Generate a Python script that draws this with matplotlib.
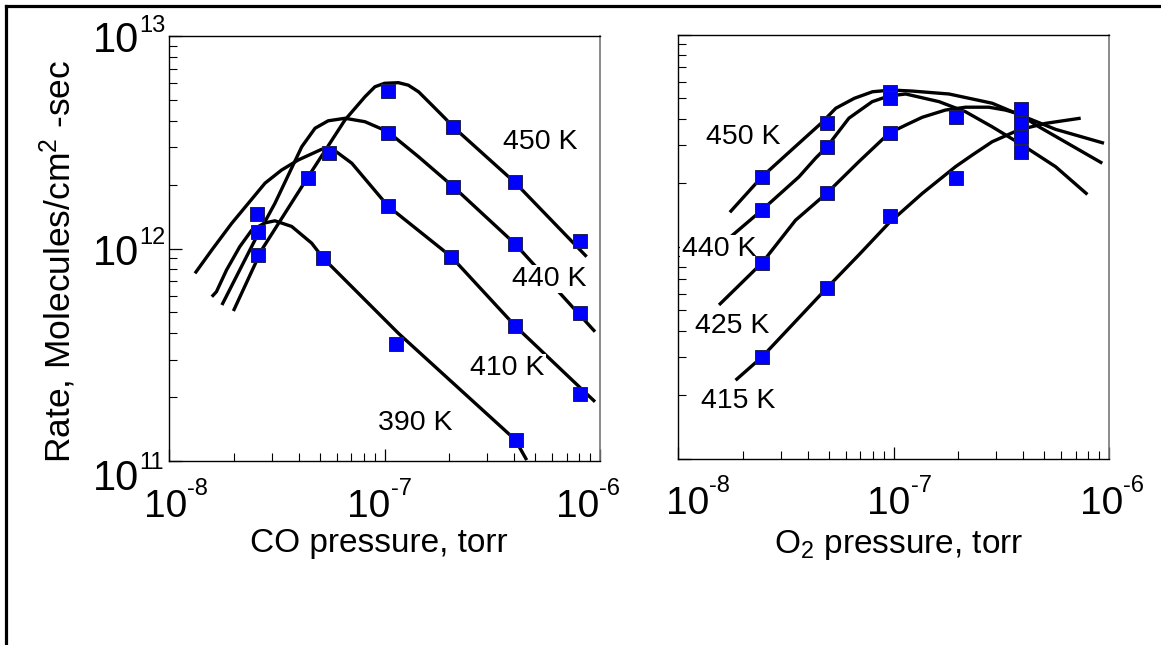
import matplotlib
matplotlib.use('Agg')
import matplotlib.pyplot as plt
from matplotlib.transforms import blended_transform_factory, ScaledTranslation
from matplotlib.ticker import LogLocator, NullFormatter
from matplotlib.lines import Line2D

plt.rcParams['font.family'] = ['Liberation Sans', 'DejaVu Sans']
plt.rcParams['mathtext.fontset'] = 'custom'
plt.rcParams['mathtext.rm'] = 'Liberation Sans'
plt.rcParams['mathtext.it'] = 'Liberation Sans:italic'
plt.rcParams['mathtext.bf'] = 'Liberation Sans:bold'
plt.rcParams['mathtext.default'] = 'regular'

# ---------------- Left panel: rate vs CO pressure ----------------
co_450_x = [2.6e-8, 4.4e-8, 1.04e-7, 2.08e-7, 4.05e-7, 8.1e-7]
co_450_y = [9.3e11, 2.15e12, 5.5e12, 3.75e12, 2.05e12, 1.08e12]
co_440_x = [1.04e-7, 2.08e-7, 4.05e-7, 8.1e-7]
co_440_y = [3.5e12, 1.95e12, 1.05e12, 4.95e11]
co_410_x = [2.57e-8, 5.55e-8, 1.04e-7, 2.04e-7, 4.05e-7, 8.1e-7]
co_410_y = [1.46e12, 2.82e12, 1.58e12, 9.15e11, 4.32e11, 2.06e11]
co_390_x = [2.59e-8, 5.2e-8, 1.13e-7, 4.06e-7]
co_390_y = [1.19e12, 9.0e11, 3.55e11, 1.26e11]

fit_co_450_x = [1.99e-8, 2.69e-8, 4.39e-8, 6.56e-8, 8.12e-8, 9.03e-8, 1.0e-7, 1.16e-7, 1.29e-7,
                1.44e-7, 1.66e-7, 1.91e-7, 2.08e-7, 4.04e-7, 8.67e-7]
fit_co_450_y = [5.08e11, 9.84e11, 2.15e12, 4.03e12, 5.18e12, 5.77e12, 5.99e12, 6.03e12, 5.87e12,
                5.46e12, 4.73e12, 4.10e12, 3.74e12, 2.04e12, 9.15e11]
fit_co_440_x = [1.76e-8, 2.51e-8, 3.1e-8, 4.13e-8, 4.76e-8, 5.48e-8, 6.56e-8, 8.12e-8, 1.035e-7, 1.44e-7, 2.09e-7, 4.04e-7, 9.48e-7]
fit_co_440_y = [5.42e11, 1.10e12, 1.63e12, 3.01e12, 3.68e12, 3.99e12, 4.10e12, 3.95e12, 3.55e12, 2.70e12, 1.95e12, 1.05e12, 4.06e11]
fit_co_410_x = [1.32e-8, 1.58e-8, 1.95e-8, 2.79e-8, 3.33e-8, 3.98e-8, 5.11e-8, 5.69e-8, 7.05e-8, 1.04e-7, 2.04e-7, 4.04e-7, 9.48e-7]
fit_co_410_y = [7.64e11, 9.84e11, 1.31e12, 2.03e12, 2.34e12, 2.61e12, 2.93e12, 2.96e12, 2.52e12, 1.58e12, 9.15e11, 4.32e11, 1.90e11]
fit_co_390_x = [1.58e-8, 1.66e-8, 1.85e-8, 2.13e-8, 2.42e-8, 2.79e-8, 3.1e-8, 3.71e-8, 4.59e-8, 5.2e-8, 1.16e-7, 4.04e-7, 4.57e-7]
fit_co_390_y = [5.93e11, 6.26e11, 7.93e11, 1.02e12, 1.22e12, 1.32e12, 1.35e12, 1.27e12, 1.06e12, 9.0e11, 3.99e11, 1.26e11, 1.01e11]

# ---------------- Right panel: rate vs O2 pressure ----------------
o2_450_x = [2.46e-8, 4.89e-8, 9.6e-8, 3.92e-7]
o2_450_y = [2.13e12, 3.84e12, 5.37e12, 3.81e12]
o2_440_x = [2.46e-8, 4.89e-8, 9.6e-8, 3.92e-7]
o2_440_y = [1.49e12, 2.96e12, 5.0e12, 2.80e12]
o2_425_x = [2.46e-8, 4.89e-8, 9.6e-8, 1.95e-7, 3.92e-7]
o2_425_y = [8.39e11, 1.79e12, 3.42e12, 4.07e12, 4.44e12]
o2_415_x = [2.46e-8, 4.89e-8, 9.6e-8, 1.95e-7, 3.92e-7]
o2_415_y = [3.02e11, 6.39e11, 1.39e12, 2.11e12, 3.30e12]

fit_o2_450_x = [1.74e-8, 2.45e-8, 3.36e-8, 4.61e-8, 5.40e-8, 6.58e-8, 7.99e-8, 9.77e-8, 1.22e-7, 1.81e-7, 2.87e-7, 4.10e-7, 5.65e-7, 9.48e-7]
fit_o2_450_y = [1.45e12, 2.13e12, 2.85e12, 3.81e12, 4.49e12, 5.0e12, 5.37e12, 5.47e12, 5.41e12, 5.24e12, 4.74e12, 4.07e12, 3.57e12, 3.07e12]
fit_o2_440_x = [1.68e-8, 2.46e-8, 3.64e-8, 4.35e-8, 4.92e-8, 6.21e-8, 7.96e-8, 9.52e-8, 1.14e-7, 1.63e-7, 2.16e-7, 2.87e-7, 3.96e-7, 5.65e-7, 7.94e-7]
fit_o2_440_y = [1.07e12, 1.49e12, 2.13e12, 2.61e12, 2.96e12, 4.03e12, 4.82e12, 5.13e12, 5.24e12, 4.82e12, 4.32e12, 3.67e12, 3.01e12, 2.38e12, 1.76e12]
fit_o2_425_x = [1.55e-8, 2.46e-8, 3.51e-8, 4.92e-8, 6.90e-8, 9.52e-8, 1.14e-7, 1.36e-7, 1.74e-7, 2.16e-7, 2.77e-7, 3.31e-7, 3.82e-7, 4.73e-7, 9.31e-7]
fit_o2_425_y = [5.30e11, 8.39e11, 1.33e12, 1.79e12, 2.51e12, 3.42e12, 3.74e12, 4.07e12, 4.40e12, 4.54e12, 4.54e12, 4.40e12, 4.22e12, 3.67e12, 2.47e12]
fit_o2_415_x = [1.85e-8, 2.46e-8, 4.92e-8, 6.90e-8, 9.52e-8, 1.36e-7, 1.94e-7, 2.32e-7, 2.87e-7, 3.82e-7, 5.08e-7, 7.39e-7]
fit_o2_415_y = [2.34e11, 3.02e11, 6.39e11, 9.12e11, 1.29e12, 1.78e12, 2.38e12, 2.70e12, 3.12e12, 3.55e12, 3.81e12, 4.03e12]

x_tick_values = [1e-8, 1e-7, 1e-6]
x_tick_exps = ['-8', '-7', '-6']
y_tick_values = [1e11, 1e12, 1e13]
y_tick_exps = ['11', '12', '13']

left_labels = ['450 K', '440 K', '410 K', '390 K']
left_label_pos = [(5.27e-7, 3.18e12), (5.8e-7, 7.18e11), (3.72e-7, 2.74e11), (1.39e-7, 1.51e11)]
right_labels = ['450 K', '440 K', '425 K', '415 K']
right_label_pos = [(2.0e-8, 3.30e12), (1.55e-8, 9.73e11), (1.78e-8, 4.23e11), (1.91e-8, 1.87e11)]

W, H = 1161, 645
fig = plt.figure(figsize=(W / 100, H / 100), dpi=100)
fig.patch.set_facecolor('white')

axL = fig.add_axes([169 / W, 1 - 461 / H, 431 / W, 425 / H])
axR = fig.add_axes([678 / W, 1 - 458.5 / H, 431 / W, 424 / H])

XT_FS = 28
YT_FS = 30
SUP_FS = 17
LABEL_FS = 20.5
AX_FS = 24


def px(dx, dy):
    """offset in pixels (dy positive = downward)"""
    return ScaledTranslation(dx / 100, -dy / 100, fig.dpi_scale_trans)


def style(ax):
    ax.set_xscale('log')
    ax.set_yscale('log')
    ax.set_xlim(1e-8, 1e-6)
    ax.set_ylim(1e11, 1e13)
    for axis in (ax.xaxis, ax.yaxis):
        axis.set_minor_locator(LogLocator(base=10, subs=range(2, 10), numticks=30))
        axis.set_minor_formatter(NullFormatter())
    ax.set_yticks(y_tick_values)
    ax.set_yticklabels([])
    ax.set_xticks(x_tick_values)
    ax.set_xticklabels([])
    ax.tick_params(which='both', direction='in', top=False, right=False,
                   labelbottom=False, labelleft=False, color='black')
    ax.tick_params(which='major', length=9, width=0.9)
    ax.tick_params(which='minor', length=6, width=0.8)
    for side in ('left', 'bottom', 'top'):
        ax.spines[side].set_linewidth(1.0)
        ax.spines[side].set_color('black')
    ax.spines['right'].set_linewidth(1.2)
    ax.spines['right'].set_color('#777777')


style(axL)
style(axR)

# x tick labels: "10" with a small raised exponent (centre offsets in px)
x_label_centre_offsets = {id(axL): [7, -5, -12], id(axR): [20, 6, 3]}
for ax in (axL, axR):
    tr = blended_transform_factory(ax.transData, ax.transAxes)
    for v, e, off in zip(x_tick_values, x_tick_exps, x_label_centre_offsets[id(ax)]):
        j = off + 11
        ax.text(v, 0, '10', transform=tr + px(j, 56), ha='right', va='baseline', fontsize=XT_FS)
        ax.text(v, 0, e, transform=tr + px(j, 34), ha='left', va='baseline', fontsize=SUP_FS)

# y tick labels (left panel only)
y_label_drop = [29, 16.5, 16.5]
tr = blended_transform_factory(axL.transAxes, axL.transData)
for v, e, dy in zip(y_tick_values, y_tick_exps, y_label_drop):
    axL.text(0, v, '10', transform=tr + px(139 - 169, dy), ha='right', va='baseline', fontsize=YT_FS)
    axL.text(0, v, e, transform=tr + px(139 - 169, dy - 21), ha='left', va='baseline', fontsize=SUP_FS)

LW = 2.4
MS = 10.5


def draw(ax, fx, fy, px_, py_):
    ax.plot(fx, fy, color='black', lw=LW, solid_capstyle='butt', solid_joinstyle='round', zorder=2)
    ax.plot(px_, py_, 's', ms=MS, mfc='#0000ff', mec='#202050', mew=0.7, zorder=4, clip_on=False)


draw(axL, fit_co_450_x, fit_co_450_y, co_450_x, co_450_y)
draw(axL, fit_co_440_x, fit_co_440_y, co_440_x, co_440_y)
draw(axL, fit_co_410_x, fit_co_410_y, co_410_x, co_410_y)
draw(axL, fit_co_390_x, fit_co_390_y, co_390_x, co_390_y)

draw(axR, fit_o2_450_x, fit_o2_450_y, o2_450_x, o2_450_y)
draw(axR, fit_o2_440_x, fit_o2_440_y, o2_440_x, o2_440_y)
draw(axR, fit_o2_425_x, fit_o2_425_y, o2_425_x, o2_425_y)
draw(axR, fit_o2_415_x, fit_o2_415_y, o2_415_x, o2_415_y)

for s, (x, y) in zip(left_labels, left_label_pos):
    axL.text(x, y, s, fontsize=LABEL_FS, ha='center', va='center', zorder=2.2,
             bbox=dict(facecolor='white', edgecolor='none', pad=1.0))
for s, (x, y) in zip(right_labels, right_label_pos):
    axR.text(x, y, s, fontsize=LABEL_FS, ha='center', va='center', zorder=2.2,
             bbox=dict(facecolor='white', edgecolor='none', pad=1.0))

axL.set_xlabel('CO pressure, torr', fontsize=AX_FS, va='center')
axL.xaxis.set_label_coords((379 - 169) / 431, -(543.5 - 461) / 425)
axR.set_xlabel('O$_{2}$ pressure, torr', fontsize=AX_FS, va='center')
axR.xaxis.set_label_coords((898.7 - 678) / 431, -(545 - 458.5) / 424)
axL.set_ylabel('Rate, Molecules/cm$^{2}$ -sec', fontsize=25.5, va='center', ha='center')
axL.yaxis.set_label_coords((57.5 - 169) / 431, (461 - 261) / 425)

# figure frame (left and top edges visible in the reference)
fig.add_artist(Line2D([5.5 / W, 5.5 / W], [0, 1 - 5.5 / H], transform=fig.transFigure,
                      color='black', lw=2.3))
fig.add_artist(Line2D([5.5 / W, 1], [1 - 5.5 / H, 1 - 5.5 / H], transform=fig.transFigure,
                      color='black', lw=2.3))

fig.savefig('out.png', dpi=100, facecolor='white')
